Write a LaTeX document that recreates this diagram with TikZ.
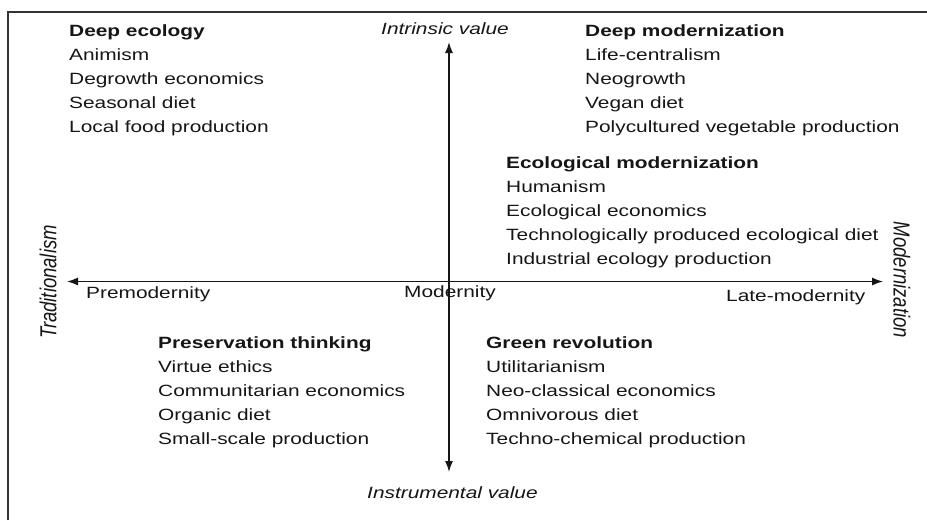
\documentclass[tikz,border=0pt]{standalone}
\usepackage{fontspec}
\usepackage{graphicx}
\usetikzlibrary{arrows.meta}
\newfontfamily\labfont[FakeStretch=1.28]{Liberation Sans}
\newfontfamily\sidefont{Liberation Sans}
\definecolor{ink}{HTML}{161616}
\definecolor{framegray}{HTML}{333333}
\tikzset{
  txt/.style={inner sep=0pt, text=ink, font=\labfont\fontsize{16.3}{24}\selectfont},
  block/.style={txt, anchor=north west, align=left},
  single/.style={txt, anchor=base west},
  axis/.style={draw=ink, line width=1.3pt, {Latex[length=11pt,width=8pt]}-{Latex[length=11pt,width=8pt]}},
  sidelabel/.style={inner sep=0pt, text=ink, font=\sidefont\itshape\fontsize{18.5}{20}\selectfont}
}
\begin{document}
\begin{tikzpicture}[x=1pt,y=-1pt]
\useasboundingbox (0,0) rectangle (927,520);
\fill[white] (0,0) rectangle (927,520);
% frame (top and left edges)
\draw[framegray, line width=2pt] (8,520) -- (8,12) -- (927,12);

% axes
\coordinate (top) at (449,42);
\coordinate (bottom) at (449,472);
\coordinate (left) at (67,281.5);
\coordinate (right) at (883,281.5);
\draw[axis] (bottom) -- (top);
\draw[axis] (left) -- (right);

% axis labels
\node[single, font=\labfont\itshape\fontsize{16.3}{24}\selectfont] (intrinsic) at (381,34) {Intrinsic value};
\node[single, font=\labfont\itshape\fontsize{16.3}{24}\selectfont] (instrumental) at (367,498) {Instrumental value};
\node[single] (premod) at (86,298) {Premodernity};
\node[single] (mod) at (404,297) {Modernity};
\node[single] (latemod) at (726,301) {Late-modernity};
\node[sidelabel, rotate=90] (trad) at (48,282) {\scalebox{1}[1.25]{Traditionalism}};
\node[sidelabel, rotate=-90] (modz) at (902,280) {\scalebox{1}[1.25]{Modernization}};

% quadrant blocks
\node[block] (deepeco) at (69,24.3) {\textbf{Deep ecology}\\Animism\\Degrowth economics\\Seasonal diet\\Local food production};
\node[block] (deepmod) at (585,24.3) {\textbf{Deep modernization}\\Life-centralism\\Neogrowth\\Vegan diet\\Polycultured vegetable production};
\node[block] (ecomod) at (506,156.3) {\textbf{Ecological modernization}\\Humanism\\Ecological economics\\Technologically produced ecological diet\\Industrial ecology production};
\node[block] (preserv) at (158,336.3) {\textbf{Preservation thinking}\\Virtue ethics\\Communitarian economics\\Organic diet\\Small-scale production};
\node[block] (greenrev) at (486,336.3) {\textbf{Green revolution}\\Utilitarianism\\Neo-classical economics\\Omnivorous diet\\Techno-chemical production};
\end{tikzpicture}
\end{document}
